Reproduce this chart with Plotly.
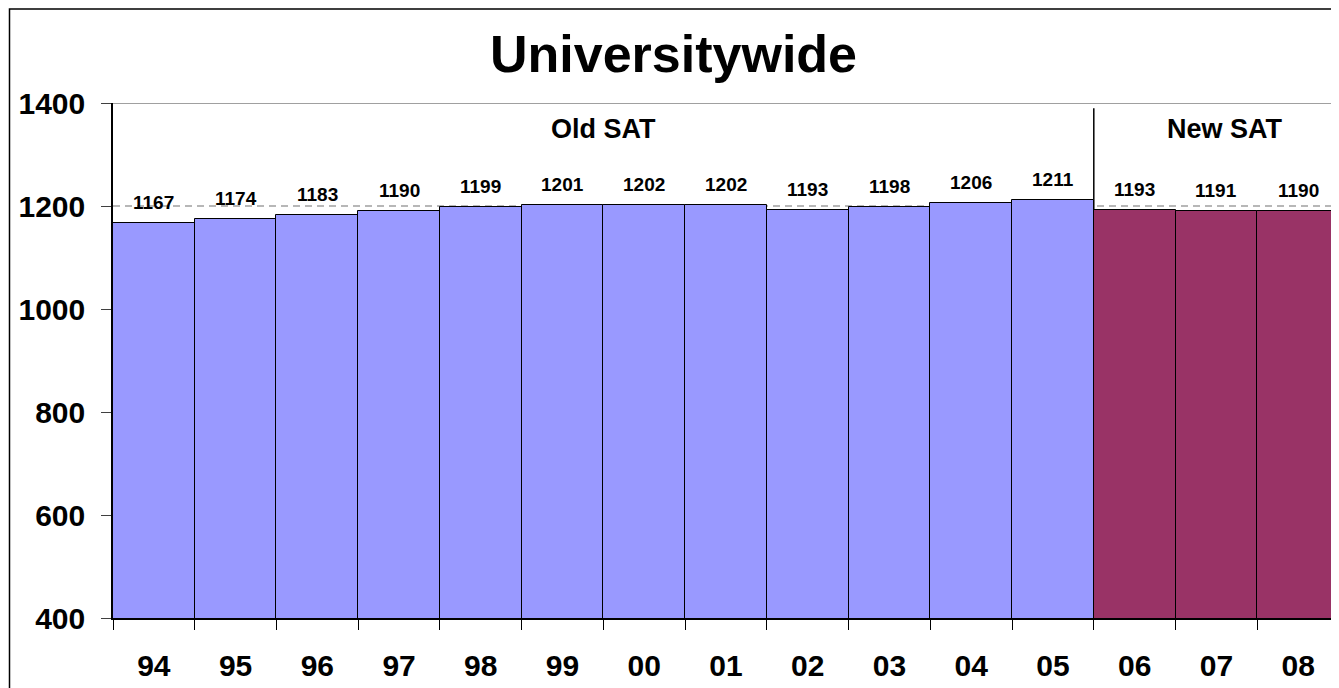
"""
Universitywide SAT 平均スコアの棒グラフ
"""

import plotly.graph_objects as go

# データ
years = ["94", "95", "96", "97", "98", "99", "00", "01", "02", "03", "04", "05", "06", "07", "08"]
scores = [1167, 1174, 1183, 1190, 1199, 1201, 1202, 1202, 1193, 1198, 1206, 1211, 1193, 1191, 1190]
n_old = 12  # Old SAT の年数
y_ticks = [400, 600, 800, 1000, 1200, 1400]
reference_score = 1200

FONT = "Liberation Sans, Arial, sans-serif"
OLD_COLOR = "#9999FF"
NEW_COLOR = "#993366"

# ページの body には 8px の余白があるため、その分を差し引いたサイズ
W, H = 1331, 680
M = {"l": 105, "r": 0, "t": 95, "b": 70}
pw = W - M["l"] - M["r"]
ph = H - M["t"] - M["b"]

fig = go.Figure()

fig.add_trace(
    go.Bar(
        x=years[:n_old],
        y=scores[:n_old],
        name="Old SAT",
        marker={"color": OLD_COLOR, "line": {"color": "#000000", "width": 1}},
    )
)
fig.add_trace(
    go.Bar(
        x=years[n_old:],
        y=scores[n_old:],
        name="New SAT",
        marker={"color": NEW_COLOR, "line": {"color": "#000000", "width": 1}},
    )
)

# 値ラベル（"00" などが数値扱いされないようインデックスで配置）
for i, sc in enumerate(scores):
    fig.add_annotation(
        x=i,
        y=sc,
        text=str(sc),
        showarrow=False,
        yanchor="bottom",
        yshift=8,
        font={"family": FONT, "size": 19, "color": "#000000", "weight": "bold"},
    )

# 区間ラベル
fig.add_annotation(
    x=(n_old - 1) / 2, y=1350, text="Old SAT", showarrow=False,
    font={"family": FONT, "size": 27, "color": "#000000", "weight": "bold"},
)
fig.add_annotation(
    x=13.1, y=1350, text="New SAT", showarrow=False,
    font={"family": FONT, "size": 27, "color": "#000000", "weight": "bold"},
)

# 1200 の破線（棒の下）
fig.add_shape(
    type="line", xref="x", yref="y", x0=-0.5, x1=len(years) - 0.5,
    y0=reference_score, y1=reference_score, layer="below",
    line={"color": "#707070", "width": 1.2, "dash": "7px,5px"},
)
# 1400 の線
fig.add_shape(
    type="line", xref="paper", yref="y", x0=-10 / pw, x1=1,
    y0=1400, y1=1400, layer="below",
    line={"color": "#808080", "width": 1.5},
)
# Old / New の区切り線
fig.add_shape(
    type="line", xref="x", yref="y", x0=n_old - 0.5, x1=n_old - 0.5,
    y0=400, y1=1390, layer="below",
    line={"color": "#000000", "width": 1.5},
)

# 外枠
fig.add_shape(
    type="rect", xref="paper", yref="paper",
    x0=(1.5 - M["l"]) / pw, x1=(W + 20 - M["l"]) / pw,
    y0=-(M["b"] + 20) / ph, y1=(ph + M["t"] - 1) / ph,
    line={"color": "#000000", "width": 1.5}, fillcolor="rgba(0,0,0,0)",
)

fig.update_layout(
    width=W,
    height=H,
    margin=M,
    barmode="overlay",
    bargap=0,
    showlegend=False,
    plot_bgcolor="#FFFFFF",
    paper_bgcolor="#FFFFFF",
    title={
        "text": "Universitywide",
        "x": 0.5,
        "xanchor": "center",
        "y": 1 - 46 / H,
        "yanchor": "middle",
        "yref": "container",
        "font": {"family": FONT, "size": 52, "color": "#000000", "weight": "bold"},
    },
)

fig.update_xaxes(
    type="category",
    categoryorder="array",
    categoryarray=years,
    range=[-0.5, len(years) - 0.5],
    automargin=False,
    showline=True,
    linecolor="#000000",
    linewidth=1.5,
    ticks="outside",
    tickson="boundaries",
    ticklen=10,
    tickcolor="#000000",
    showgrid=False,
    ticklabelstandoff=20,
    tickfont={"family": FONT, "size": 30, "color": "#000000", "weight": "bold"},
)

fig.update_yaxes(
    range=[400, 1400],
    tickvals=y_ticks,
    automargin=False,
    showline=True,
    linecolor="#000000",
    linewidth=1.5,
    ticks="outside",
    ticklen=10,
    tickcolor="#404040",
    showgrid=False,
    zeroline=False,
    ticklabelstandoff=10,
    tickfont={"family": FONT, "size": 30, "color": "#000000", "weight": "bold"},
)

fig.write_html("out.html")
